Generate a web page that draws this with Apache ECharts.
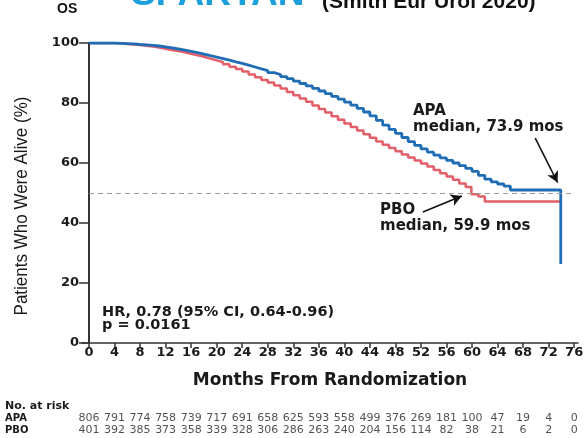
<!DOCTYPE html>
<html>
<head>
<meta charset="utf-8">
<script src="https://cdn.jsdelivr.net/npm/echarts@6/dist/echarts.min.js"></script>
<style>
  html, body { margin: 0; padding: 0; background: #fff; }
  #chart { width: 587px; height: 438px; }
</style>
</head>
<body>
<div id="chart"></div>
<script>
// Kaplan-Meier overall survival, apalutamide (APA) vs placebo (PBO)
const monthTicks = [0, 4, 8, 12, 16, 20, 24, 28, 32, 36, 40, 44, 48, 52, 56, 60, 64, 68, 72, 76];
const survivalTicks = [0, 20, 40, 60, 80, 100];

const apaMonths = [0, 1, 2, 3, 4, 5, 6, 7, 8, 9, 10, 11, 12, 13, 14, 15, 16, 17, 18, 19, 20,
  21, 22, 23, 24, 25, 26, 27, 28, 29, 30, 31, 32, 33, 34, 35, 36, 37, 38, 39, 40,
  41, 42, 43, 44, 45, 46, 47, 48, 49, 50, 51, 52, 53, 54, 55, 56, 57, 58, 59, 60,
  61, 62, 63, 64, 65, 66, 73.9, 73.9];
const apaSurvival = [100, 100, 100, 100, 99.9, 99.8, 99.7, 99.5, 99.4, 99.2, 99.0,
  98.7, 98.4, 98.0, 97.6, 97.2, 96.8, 96.3, 95.8, 95.3, 94.8,
  94.3, 93.7, 93.2, 92.6, 92.0, 91.4, 90.8, 90.1, 89.5, 88.8,
  88.1, 87.3, 86.5, 85.7, 84.9, 84.0, 83.1, 82.2, 81.3, 80.3,
  79.3, 78.2, 77.0, 75.7, 74.2, 72.6, 71.2, 69.9, 68.5, 67.1,
  65.9, 64.7, 63.6, 62.6, 61.7, 60.9, 60.0, 59.1, 58.2, 57.2,
  55.9, 54.6, 53.7, 53.0, 52.3, 51.0, 51.0, 26.3];

const pboMonths = [0, 1, 2, 3, 4, 5, 6, 7, 8, 9, 10, 11, 12, 13, 14, 15, 16, 17, 18, 19, 20,
  21, 22, 23, 24, 25, 26, 27, 28, 29, 30, 31, 32, 33, 34, 35, 36, 37, 38, 39, 40,
  41, 42, 43, 44, 45, 46, 47, 48, 49, 50, 51, 52, 53, 54, 55, 56, 57, 58, 59, 59.9,
  61, 62, 73.9];
const pboSurvival = [100, 100, 100, 100, 99.9, 99.7, 99.5, 99.3, 99.1, 98.8, 98.5,
  98.1, 97.7, 97.3, 96.9, 96.4, 95.9, 95.4, 94.8, 94.2, 93.6,
  92.9, 92.1, 91.3, 90.5, 89.5, 88.6, 87.7, 86.8, 85.8, 84.8,
  83.7, 82.6, 81.5, 80.4, 79.2, 78.0, 76.8, 75.6, 74.4, 73.2,
  72.0, 70.8, 69.6, 68.4, 67.2, 66.1, 65.0, 63.9, 62.8, 61.8,
  60.8, 59.8, 58.8, 57.7, 56.6, 55.5, 54.4, 53.2, 52.0, 49.6,
  48.8, 47.2, 47.2];

// Numbers at risk, one value per 4-month tick
const riskMonths = monthTicks;
const apaAtRisk = [806, 791, 774, 758, 739, 717, 691, 658, 625, 593, 558, 499, 376, 269, 181, 100, 47, 19, 4, 0];
const pboAtRisk = [401, 392, 385, 373, 358, 339, 328, 306, 286, 263, 240, 204, 156, 114, 82, 38, 21, 6, 2, 0];
const armNames = ['APA', 'PBO'];

const apaMedian = 73.9;
const pboMedian = 59.9;

const WIDE = '"DejaVu Sans", Verdana, sans-serif';
const SANS = '"Liberation Sans", Arial, Helvetica, sans-serif';
const BLUE = '#1f6db4';
const RED = '#e35e69';
const INK = '#1a1a1a';

const zip = (xs, ys) => xs.map((x, i) => [x, ys[i]]);
const apaData = zip(apaMonths, apaSurvival);
const pboData = zip(pboMonths, pboSurvival);
const riskData = (arm, values) => riskMonths.map((m, i) => [m, arm, values[i]]);

const chart = echarts.init(document.getElementById('chart'));

const boldText = (size) => ({ fontFamily: WIDE, fontWeight: 'bold', fontSize: size, color: INK });
const note = (x, y, text, size) => ({
  type: 'text', x, y,
  style: { text, font: 'bold ' + size + 'px ' + WIDE, fill: INK, verticalAlign: 'middle' }
});
const riskLabel = {
  show: true, position: 'inside', formatter: p => p.value[2],
  fontFamily: WIDE, fontSize: 11, color: '#262626'
};

chart.setOption({
  animation: false,
  grid: [
    { left: 82, right: 9, top: 43, bottom: 95 },
    { left: 82, right: 9, top: 412, height: 24 }
  ],
  xAxis: [
    {
      type: 'value', min: -1.1, max: 76.6,
      axisLine: { onZero: false, lineStyle: { color: '#333', width: 1.5 } },
      axisTick: { show: true, customValues: monthTicks, length: 5, lineStyle: { color: '#333', width: 1.5 } },
      axisLabel: Object.assign({ customValues: monthTicks, margin: 3 }, boldText(13)),
      splitLine: { show: false },
      name: 'Months From Randomization',
      nameLocation: 'middle',
      nameGap: 29,
      nameTextStyle: boldText(17)
    },
    { gridIndex: 1, type: 'value', min: -1.1, max: 76.6, show: false }
  ],
  yAxis: [
    {
      type: 'value', min: 0, max: 100, interval: 20,
      axisLine: { show: true, onZero: true, lineStyle: { color: '#333', width: 2 } },
      axisTick: { show: true, length: 10, lineStyle: { color: '#333', width: 1.5 } },
      axisLabel: Object.assign({ margin: 3, customValues: survivalTicks }, boldText(13)),
      splitLine: { show: false }
    },
    {
      gridIndex: 1, type: 'category', data: armNames, inverse: true,
      axisLine: { show: false }, axisTick: { show: false },
      axisLabel: { interval: 0, align: 'left', margin: 77, fontFamily: WIDE, fontWeight: 'bold', fontSize: 10, color: INK }
    }
  ],
  graphic: [
    { type: 'text', x: 57, y: 9, style: { text: 'OS', font: 'bold 14px ' + SANS, fill: '#111', verticalAlign: 'middle' } },
    { type: 'text', x: 131, y: -5, style: { text: 'SPARTAN', font: 'bold 37px ' + SANS, fill: '#1c9fdc', verticalAlign: 'middle' } },
    { type: 'text', x: 322, y: 2, style: { text: '(Smith Eur Urol 2020)', font: 'bold 21px ' + SANS, fill: '#111', verticalAlign: 'middle' } },
    { type: 'text', x: 22, y: 206, rotation: Math.PI / 2, scaleY: 1.1,
      style: { text: 'Patients Who Were Alive (%)', font: '17px ' + SANS, fill: INK, align: 'center', verticalAlign: 'middle' } },
    note(413, 111, 'APA', 15),
    note(413, 127, 'median, 73.9 mos', 15),
    note(380, 210, 'PBO', 15),
    note(380, 226, 'median, 59.9 mos', 15),
    note(102, 312, 'HR, 0.78 (95% CI, 0.64-0.96)', 14.5),
    note(102, 325, 'p = 0.0161', 14.5),
    note(5, 406, 'No. at risk', 11)
  ],
  series: [
    {
      name: 'PBO', type: 'line', step: 'end', data: pboData,
      symbol: 'none', lineStyle: { color: RED, width: 2.5 }, z: 3,
      markLine: {
        silent: true, symbol: 'none', label: { show: false },
        lineStyle: { color: '#9a9a9a', type: [5, 4], width: 1.2 },
        data: [[{ coord: [0, 50] }, { coord: [76, 50] }]]
      }
    },
    {
      name: 'APA', type: 'line', step: 'end', data: apaData,
      symbol: 'none', lineStyle: { color: BLUE, width: 2.8 }, z: 4,
      markLine: {
        silent: true, symbol: ['none', 'arrow'], symbolSize: [9, 11], label: { show: false },
        lineStyle: { color: '#111', type: 'solid', width: 1.6 },
        data: [
          [{ coord: [69.9, 68.3] }, { coord: [apaMedian - 0.5, 53.5] }],
          [{ coord: [52.3, 43.7] }, { coord: [pboMedian - 1.5, 49.0] }]
        ]
      }
    },
    {
      name: 'APA at risk', type: 'scatter', xAxisIndex: 1, yAxisIndex: 1,
      data: riskData('APA', apaAtRisk), symbolSize: 0, label: riskLabel
    },
    {
      name: 'PBO at risk', type: 'scatter', xAxisIndex: 1, yAxisIndex: 1,
      data: riskData('PBO', pboAtRisk), symbolSize: 0, label: riskLabel
    }
  ]
});
</script>
</body>
</html>
